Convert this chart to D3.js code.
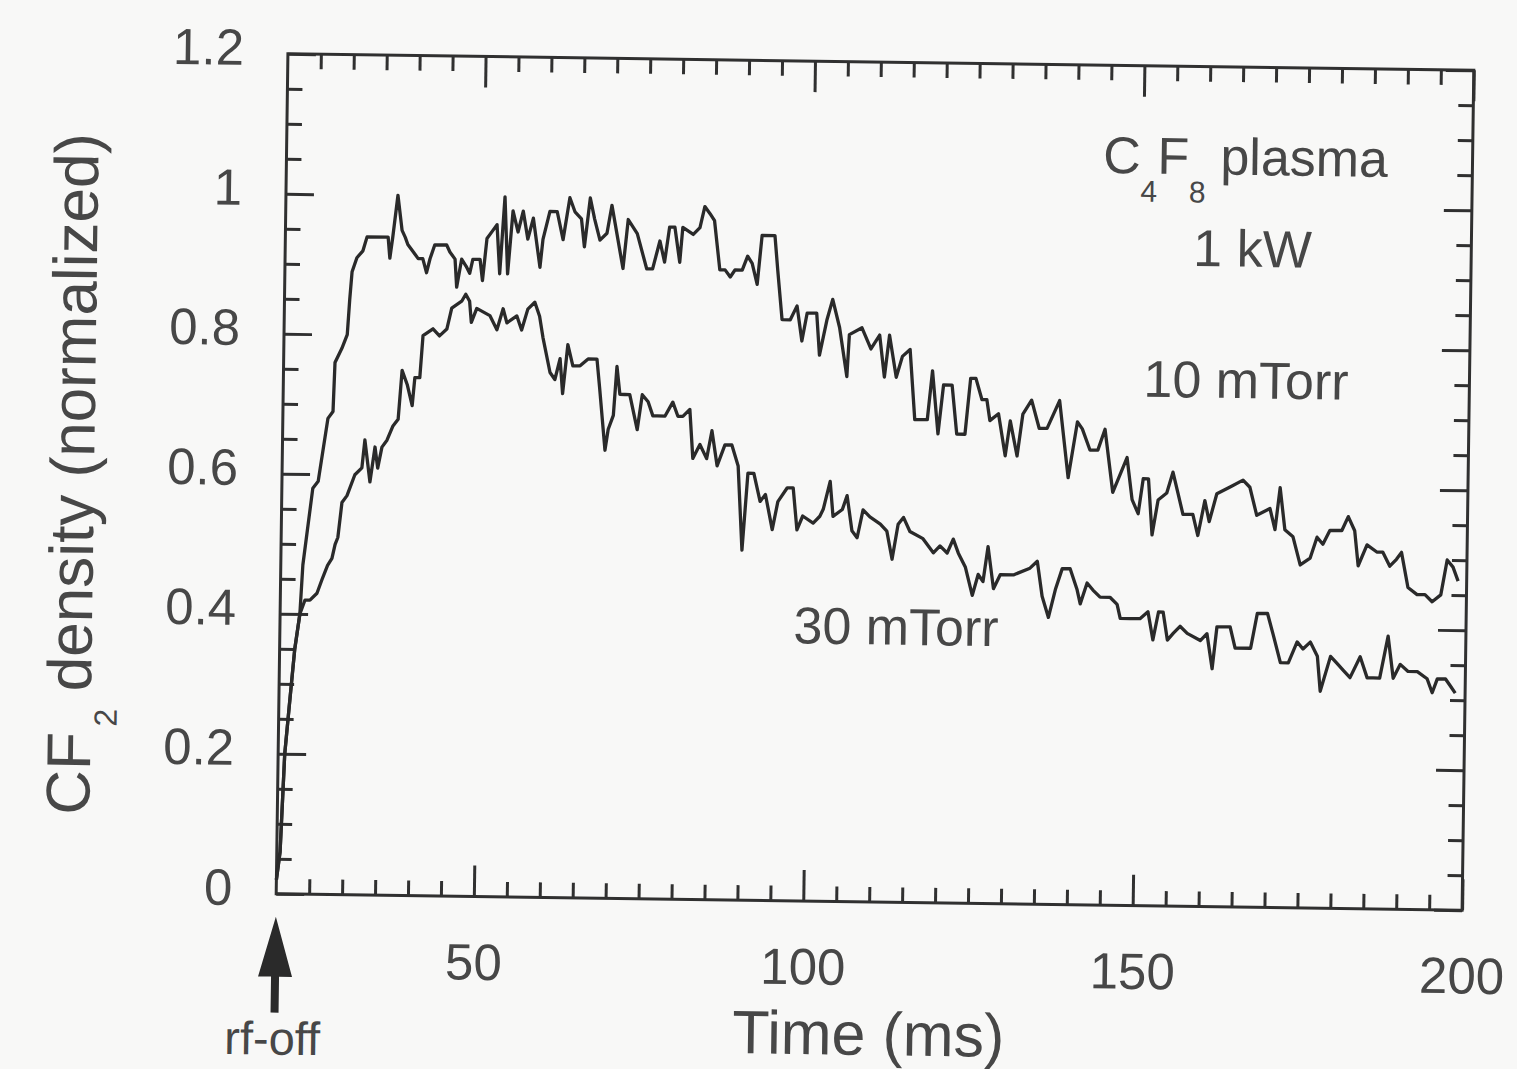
<!DOCTYPE html>
<html><head><meta charset="utf-8">
<script src="https://cdn.jsdelivr.net/npm/d3@7"></script>
<style>
html,body{margin:0;padding:0;background:#f8f8f7;}
svg{display:block;}
text{font-family:"Liberation Sans",Arial,Helvetica,sans-serif;fill:#474747;}
</style></head><body>
<svg id="chart" width="1517" height="1069"></svg>
<script>
// ---- data (CF2 density, normalized) ----
const t10 = [20.0,20.5,21.0,21.6,22.3,23.0,23.35,24.7,25.5,26.85,27.6,27.8,28.8,29.6,29.9,30.2,30.9,31.8,32.4,35.6,35.9,36.3,37.0,37.7,38.2,38.6,39.4,40.2,40.9,41.5,42.0,42.7,44.5,45.0,45.8,46.1,46.8,47.5,48.05,48.5,49.6,50.0,50.6,51.35,52.1,52.6,53.25,53.8,54.5,55.3,56.05,56.8,57.6,58.7,59.1,60.1,61.2,62.15,63.1,63.9,64.9,65.4,66.2,66.9,67.75,68.8,69.5,70.3,71.3,72.0,73.4,74.9,75.8,76.85,77.6,78.3,79.1,79.9,80.3,81.9,82.9,83.6,84.4,85.1,86.0,86.8,87.6,88.3,89.4,90.2,90.9,91.7,92.35,94.3,94.8,95.55,96.8,97.8,98.6,99.35,100.8,101.3,102.35,103.2,104.3,105.5,105.8,107.7,109.1,110.4,111.2,111.9,113.0,113.9,115.05,115.9,117.8,118.5,119.45,120.2,121.5,122.3,123.55,124.3,125.1,126.05,126.8,127.3,128.6,129.7,130.4,131.5,132.3,133.6,134.8,136.0,137.85,139.3,140.6,141.35,142.55,143.75,144.8,146.1,148.2,149.05,150.0,150.7,151.5,152.15,153.0,154.3,155.2,156.0,156.8,158.3,159.1,160.1,160.8,161.9,163.9,165.85,166.9,168.0,170.0,170.8,171.5,172.3,173.55,174.7,176.2,177.2,178.1,179.15,180.95,181.9,182.9,183.5,184.8,186.3,187.2,188.3,189.3,190.05,191.1,192.5,193.7,194.8,196.1,197.0,197.9,198.7];
const v10 = [0.02,0.06,0.20,0.27,0.35,0.40,0.47,0.58,0.59,0.68,0.69,0.76,0.78,0.80,0.85,0.89,0.91,0.92,0.94,0.94,0.91,0.94,1.00,0.95,0.94,0.93,0.92,0.91,0.91,0.89,0.91,0.93,0.93,0.92,0.91,0.87,0.91,0.90,0.89,0.91,0.91,0.88,0.94,0.95,0.96,0.89,1.00,0.89,0.98,0.95,0.98,0.94,0.97,0.90,0.94,0.98,0.98,0.94,1.00,0.98,0.97,0.93,1.00,0.97,0.94,0.95,0.99,0.95,0.90,0.97,0.95,0.90,0.90,0.94,0.91,0.96,0.96,0.91,0.96,0.95,0.96,0.99,0.98,0.97,0.90,0.90,0.89,0.90,0.90,0.92,0.91,0.88,0.95,0.95,0.90,0.83,0.83,0.85,0.80,0.84,0.84,0.78,0.83,0.86,0.82,0.75,0.81,0.82,0.79,0.81,0.75,0.81,0.75,0.78,0.79,0.69,0.69,0.76,0.67,0.74,0.74,0.67,0.67,0.75,0.75,0.72,0.72,0.69,0.70,0.64,0.69,0.64,0.70,0.72,0.68,0.68,0.72,0.61,0.69,0.68,0.65,0.65,0.68,0.59,0.64,0.58,0.56,0.61,0.61,0.53,0.58,0.59,0.62,0.59,0.56,0.56,0.53,0.58,0.55,0.59,0.60,0.61,0.60,0.56,0.57,0.54,0.60,0.54,0.53,0.49,0.50,0.53,0.52,0.54,0.54,0.56,0.54,0.49,0.52,0.51,0.51,0.49,0.50,0.51,0.46,0.45,0.45,0.44,0.45,0.50,0.49,0.47];
const t30 = [20.0,20.5,21.0,21.6,22.3,23.0,23.75,24.5,25.55,26.3,27.1,27.75,28.2,28.6,29.15,29.9,31.05,32.1,32.5,33.35,34.05,34.5,35.1,35.85,36.7,37.5,38.0,38.8,39.6,39.95,40.7,41.1,42.6,43.6,44.7,45.4,46.9,47.5,48.1,48.4,49.2,51.2,52.3,53.2,53.8,55.3,56.05,56.95,58.0,58.75,59.3,60.45,61.2,61.95,62.4,63.1,63.9,65.0,66.2,67.55,68.0,68.95,69.4,70.15,70.6,71.1,71.85,72.6,73.8,74.5,75.4,76.15,76.8,78.0,79.15,79.95,80.7,81.75,82.3,83.35,84.4,85.15,86.0,87.15,88.2,89.2,89.95,90.7,91.6,92.6,93.4,94.5,95.3,96.7,97.6,98.25,99.1,100.7,101.7,102.2,103.2,103.7,105.1,105.8,106.6,107.4,108.25,109.3,110.9,111.9,112.75,113.6,114.4,115.4,117.4,119.0,120.0,121.1,122.0,122.8,123.9,125.0,125.85,126.6,127.3,128.2,129.2,131.2,133.7,134.8,135.6,136.6,137.6,138.6,139.8,140.9,141.4,142.4,143.3,144.4,145.9,147.0,147.5,149.0,150.5,151.7,152.5,153.3,154.0,154.7,155.6,156.6,157.7,159.7,160.7,161.55,162.2,164.2,165.0,167.35,168.3,169.85,170.75,171.9,173.1,174.4,175.3,176.4,177.5,178.0,179.5,180.5,181.5,182.5,184.0,185.1,186.0,187.0,188.2,189.05,190.1,191.3,192.7,194.2,195.0,195.75,197.0,197.75,198.5];
const v30 = [0.02,0.06,0.20,0.27,0.35,0.40,0.42,0.42,0.43,0.45,0.47,0.48,0.50,0.51,0.56,0.57,0.60,0.61,0.65,0.59,0.64,0.61,0.64,0.65,0.67,0.68,0.75,0.73,0.70,0.74,0.74,0.80,0.81,0.80,0.81,0.84,0.85,0.86,0.85,0.82,0.84,0.83,0.81,0.84,0.82,0.83,0.81,0.84,0.85,0.83,0.80,0.75,0.74,0.77,0.72,0.79,0.76,0.76,0.77,0.77,0.73,0.64,0.67,0.69,0.76,0.72,0.72,0.72,0.67,0.72,0.71,0.69,0.69,0.69,0.71,0.69,0.69,0.70,0.63,0.65,0.63,0.67,0.62,0.65,0.65,0.62,0.50,0.61,0.61,0.57,0.58,0.53,0.57,0.59,0.59,0.53,0.55,0.54,0.55,0.56,0.60,0.55,0.56,0.58,0.53,0.52,0.56,0.55,0.54,0.53,0.49,0.54,0.55,0.53,0.52,0.50,0.51,0.50,0.52,0.50,0.48,0.44,0.47,0.46,0.51,0.45,0.47,0.47,0.48,0.49,0.44,0.41,0.45,0.48,0.48,0.45,0.43,0.46,0.45,0.44,0.44,0.43,0.41,0.41,0.41,0.42,0.38,0.42,0.42,0.38,0.39,0.40,0.39,0.38,0.39,0.34,0.40,0.40,0.37,0.37,0.42,0.42,0.39,0.35,0.35,0.38,0.37,0.38,0.36,0.31,0.36,0.35,0.34,0.33,0.36,0.33,0.33,0.33,0.39,0.33,0.35,0.34,0.34,0.33,0.31,0.33,0.33,0.32,0.31];

const xMajorTicks = [50, 100, 150, 200];
const xTickLabels = ["50", "100", "150", "200"];
const xMinorTicks = [25,30,35,40,45,55,60,65,70,75,80,85,90,95,105,110,115,120,125,130,135,140,145,155,160,165,170,175,180,185,190,195];
const yMajorTicks = [0, 0.2, 0.4, 0.6, 0.8, 1, 1.2];
const yTickLabels = ["0", "0.2", "0.4", "0.6", "0.8", "1", "1.2"];
const yMinorTicks = [0.05,0.1,0.15,0.25,0.3,0.35,0.45,0.5,0.55,0.65,0.7,0.75,0.85,0.9,0.95,1.05,1.1,1.15];

// ---- layout ----
const L = 282, R = 1468, T = 62, B = 902;
const INK = "#303030", TXT = "#474747", FONT = "'Liberation Sans', Arial, Helvetica, sans-serif";

const x = d3.scaleLinear().domain([20, 200]).range([L, R]);
const y = d3.scaleLinear().domain([0, 1.2]).range([B, T]);

const svg = d3.select("#chart");
const g = svg.append("g").attr("transform", "rotate(0.8,875,482)");

function style(sel, showText) {
  sel.attr("font-family", FONT).attr("font-size", 51);
  sel.select(".domain").remove();
  sel.selectAll("line").attr("stroke", INK).attr("stroke-width", 3);
  sel.selectAll("text").attr("fill", TXT);
  if (!showText) sel.selectAll("text").remove();
}

// bottom
g.append("g").attr("transform", `translate(0,${B})`)
  .call(d3.axisBottom(x).tickValues(xMinorTicks).tickSize(-15).tickFormat(""))
  .call(s => style(s, false));
g.append("g").attr("transform", `translate(0,${B})`)
  .call(d3.axisBottom(x).tickValues(xMajorTicks).tickSize(-31).tickPadding(47)
    .tickFormat((d, i) => xTickLabels[i]))
  .call(s => style(s, true));
// top
g.append("g").attr("transform", `translate(0,${T})`)
  .call(d3.axisTop(x).tickValues(xMinorTicks).tickSize(-15).tickFormat(""))
  .call(s => style(s, false));
g.append("g").attr("transform", `translate(0,${T})`)
  .call(d3.axisTop(x).tickValues(xMajorTicks).tickSize(-31).tickFormat(""))
  .call(s => style(s, false));
// left
g.append("g").attr("transform", `translate(${L},0)`)
  .call(d3.axisLeft(y).tickValues(yMinorTicks).tickSize(-15).tickFormat(""))
  .call(s => style(s, false));
g.append("g").attr("transform", `translate(${L},0)`)
  .call(d3.axisLeft(y).tickValues(yMajorTicks).tickSize(-28).tickPadding(44)
    .tickFormat((d, i) => yTickLabels[i]))
  .call(s => style(s, true))
  .call(s => s.selectAll("text").attr("dy", "0.22em"));
// right
g.append("g").attr("transform", `translate(${R},0)`)
  .call(d3.axisRight(y).tickValues(yMinorTicks).tickSize(-15).tickFormat(""))
  .call(s => style(s, false));
g.append("g").attr("transform", `translate(${R},0)`)
  .call(d3.axisRight(y).tickValues(yMajorTicks).tickSize(-28).tickFormat(""))
  .call(s => style(s, false));

// frame
g.append("rect").attr("x", L).attr("y", T).attr("width", R - L).attr("height", B - T)
  .attr("fill", "none").attr("stroke", INK).attr("stroke-width", 3);

// series
const line = d3.line().x(d => x(d[0])).y(d => y(d[1]));
[[t10, v10], [t30, v30]].forEach(([ts, vs]) => {
  g.append("path").datum(d3.zip(ts, vs)).attr("d", line)
    .attr("fill", "none").attr("stroke", "#2a2a2a").attr("stroke-width", 3.3)
    .attr("stroke-linejoin", "round");
});

// annotations
const c4 = g.append("text").attr("x", x(143.95)).attr("y", y(1.046)).attr("font-size", 52);
c4.append("tspan").text("C");
c4.append("tspan").attr("font-size", 30).attr("dy", 28).text("4");
c4.append("tspan").attr("dy", -28).text("F");
c4.append("tspan").attr("font-size", 30).attr("dy", 28).text("8");
c4.append("tspan").attr("dy", -28).text(" plasma");

g.append("text").attr("x", x(166.8)).attr("y", y(0.915)).attr("text-anchor", "middle")
  .attr("font-size", 52).text("1 kW");
g.append("text").attr("x", x(166.1)).attr("y", y(0.727)).attr("text-anchor", "middle")
  .attr("font-size", 52).text("10 mTorr");
g.append("text").attr("x", x(113.5)).attr("y", y(0.368)).attr("text-anchor", "middle")
  .attr("font-size", 52).text("30 mTorr");

// axis titles
g.append("text").attr("x", 876).attr("y", 1055).attr("text-anchor", "middle")
  .attr("font-size", 61).text("Time (ms)");
const yt = g.append("text").attr("transform", "translate(94,826) rotate(-90)")
  .attr("font-size", 62);
yt.append("tspan").text("CF");
yt.append("tspan").attr("font-size", 32).attr("dy", 26).attr("dx", 6).text("2");
yt.append("tspan").attr("dy", -26).text(" density (normalized)");

// rf-off arrow
const ax = x(20);
g.append("path")
  .attr("d", `M${ax},925 L${ax + 17},985 L${ax + 4},985 L${ax + 4},1021 L${ax - 4},1021 L${ax - 4},985 L${ax - 17},985 Z`)
  .attr("fill", "#2a2a2a");
g.append("text").attr("x", ax - 2).attr("y", 1063).attr("text-anchor", "middle")
  .attr("font-size", 47).text("rf-off");
</script>
</body></html>
